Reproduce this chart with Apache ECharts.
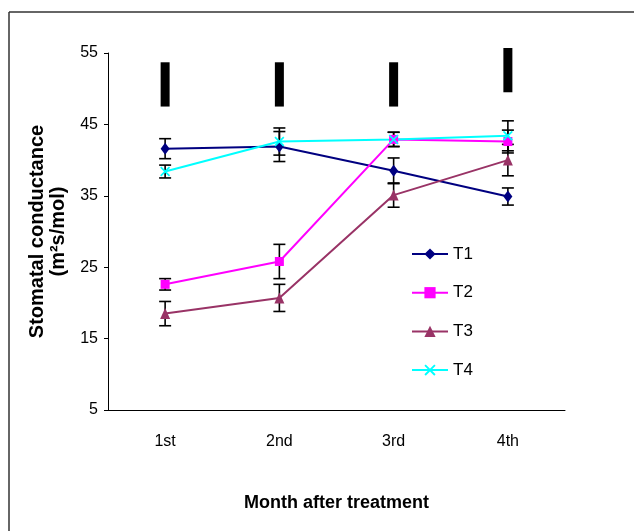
<!DOCTYPE html>
<html>
<head>
<meta charset="utf-8">
<script src="https://cdn.jsdelivr.net/npm/echarts@6/dist/echarts.min.js"></script>
<style>html,body{margin:0;padding:0;background:#fff}#c{width:634px;height:531px}</style>
</head>
<body>
<div id="c"></div>
<script>
const categories = ['1st', '2nd', '3rd', '4th'];
const t1 = [41.6, 41.9, 38.5, 34.9];
const t1Err = [1.4, 2.1, 1.8, 1.2];
const t2 = [22.6, 25.8, 42.9, 42.6];
const t2Err = [0.8, 2.4, 1.0, 1.6];
const t3 = [18.5, 20.7, 35.1, 40.0];
const t3Err = [1.7, 1.9, 1.7, 2.2];
const t4 = [38.4, 42.6, 42.9, 43.4];
const t4Err = [0.9, 1.9, 1.0, 2.1];
const barLow = [47.5, 47.5, 47.5, 49.5];
const barHigh = [53.7, 53.7, 53.7, 55.7];
const yTicks = [5, 15, 25, 35, 45, 55];

const FONT = "'Liberation Sans', Arial, sans-serif";

const chart = echarts.init(document.getElementById('c'), null, {renderer: 'canvas'});

function errSeries(vals, errs) {
  return {
    type: 'custom',
    silent: true,
    z: 1,
    data: vals.map((v, i) => [i, v, errs[i]]),
    renderItem: function (params, api) {
      const x = api.value(0), v = api.value(1), e = api.value(2);
      const hi = api.coord([x, v + e]);
      const lo = api.coord([x, v - e]);
      const w = 6;
      const st = {stroke: '#000', lineWidth: 1.6};
      return {
        type: 'group',
        children: [
          {type: 'line', shape: {x1: hi[0], y1: hi[1], x2: lo[0], y2: lo[1]}, style: st},
          {type: 'line', shape: {x1: hi[0] - w, y1: hi[1], x2: hi[0] + w, y2: hi[1]}, style: st},
          {type: 'line', shape: {x1: lo[0] - w, y1: lo[1], x2: lo[0] + w, y2: lo[1]}, style: st}
        ]
      };
    }
  };
}

const xPath = 'path://M0,1.2L1.2,0L5,3.8L8.8,0L10,1.2L6.2,5L10,8.8L8.8,10L5,6.2L1.2,10L0,8.8L3.8,5Z';

chart.setOption({
  animation: false,
  backgroundColor: '#fff',
  textStyle: {fontFamily: FONT},
  graphic: [
    {type: 'line', shape: {x1: 9, y1: 12, x2: 634, y2: 12}, style: {stroke: '#333', lineWidth: 1.5}},
    {type: 'line', shape: {x1: 9, y1: 12, x2: 9, y2: 531}, style: {stroke: '#333', lineWidth: 1.5}}
  ],
  grid: {left: 108, right: 69, top: 53, bottom: 121},
  legend: {
    orient: 'vertical',
    left: 406,
    top: 240.5,
    itemWidth: 36,
    itemHeight: 14,
    itemGap: 21.7,
    textStyle: {fontSize: 17, lineHeight: 14, color: '#000', fontFamily: FONT},
    data: ['T1', 'T2', 'T3', 'T4']
  },
  xAxis: {
    type: 'category',
    data: categories,
    boundaryGap: true,
    axisLine: {lineStyle: {color: '#000', width: 1}},
    axisTick: {inside: false, length: 5, lineStyle: {color: '#000'}},
    axisLabel: {fontSize: 16, color: '#000', margin: 24, fontFamily: FONT},
    name: 'Month after treatment',
    nameLocation: 'middle',
    nameGap: 84,
    nameTextStyle: {fontSize: 18, fontWeight: 'bold', color: '#000', fontFamily: FONT}
  },
  yAxis: {
    type: 'value',
    min: yTicks[0],
    max: yTicks[yTicks.length - 1],
    interval: 10,
    splitLine: {show: false},
    axisLine: {show: true, lineStyle: {color: '#000', width: 1}},
    axisTick: {show: true, length: 4, lineStyle: {color: '#000'}},
    axisLabel: {fontSize: 16, color: '#000', margin: 10, fontFamily: FONT},
    name: 'Stomatal conductance\n(m²s/mol)',
    nameLocation: 'middle',
    nameRotate: 90,
    nameGap: 33,
    nameTextStyle: {fontSize: 20, fontWeight: 'bold', color: '#000', lineHeight: 21, fontFamily: FONT}
  },
  series: [
    {
      type: 'custom',
      silent: true,
      z: 1,
      clip: false,
      data: barLow.map((v, i) => [i, v, barHigh[i]]),
      renderItem: function (params, api) {
        const x = api.value(0);
        const a = api.coord([x, api.value(1)]);
        const b = api.coord([x, api.value(2)]);
        return {type: 'rect', shape: {x: a[0] - 4.5, y: b[1], width: 9, height: a[1] - b[1]}, style: {fill: '#000'}};
      }
    },
    errSeries(t1, t1Err),
    errSeries(t2, t2Err),
    errSeries(t3, t3Err),
    errSeries(t4, t4Err),
    {name: 'T1', type: 'line', data: t1, z: 3, symbol: 'diamond', symbolSize: [9, 12],
     lineStyle: {color: '#000080', width: 2}, itemStyle: {color: '#000080'}},
    {name: 'T2', type: 'line', data: t2, z: 3, symbol: 'rect', symbolSize: 9,
     lineStyle: {color: '#FF00FF', width: 2}, itemStyle: {color: '#FF00FF'}},
    {name: 'T3', type: 'line', data: t3, z: 3, symbol: 'triangle', symbolSize: [10, 11],
     lineStyle: {color: '#993366', width: 2}, itemStyle: {color: '#993366'}},
    {name: 'T4', type: 'line', data: t4, z: 3, symbol: xPath, symbolSize: 10,
     lineStyle: {color: '#00FFFF', width: 2}, itemStyle: {color: '#00FFFF'}}
  ]
});
</script>
</body>
</html>
